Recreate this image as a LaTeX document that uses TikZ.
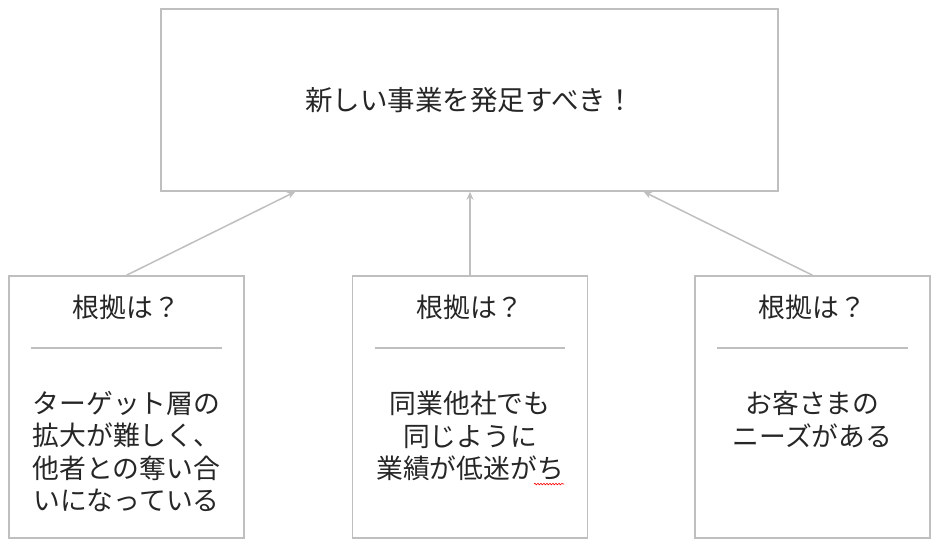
\documentclass[tikz,border=0pt]{standalone}
\usepackage{fontspec}
\newfontfamily\jpfont{Noto Sans CJK JP}
\usetikzlibrary{calc}
\usetikzlibrary{positioning}
\usetikzlibrary{arrows.meta,decorations.pathmorphing}
\tikzset{every picture/.style={/utils/exec={\jpfont}}}
\colorlet{boxgray}{black!25}

\begin{document}
\begin{tikzpicture}[x=1pt,y=-1pt,
  box/.style={draw=boxgray, line width=1.5pt, minimum width=235pt, minimum height=262pt, inner sep=0pt},
  txt/.style={text=black!85, font=\jpfont\fontsize{26.8}{32.3}\selectfont, align=center, inner sep=0pt},
  link/.style={draw=boxgray, line width=1.5pt, -{Stealth[length=8pt,width=7pt]}}]
  \useasboundingbox (0,0) rectangle (938,545);

  \node [box, minimum width=617pt, minimum height=182pt] (claim) at (469.5,100) {};
  \node [txt, font=\jpfont\fontsize{27.5}{32}\selectfont] (claimtext) at (claim.center) {新しい事業を発足すべき！};

  \node [box] (left) at (126.5,407) {};
  \node [box] (mid) at (470,407) {};
  \node [box] (right) at (812.5,407) {};

  \foreach \b in {left, mid, right} {
    \node [txt] (\b head) at ($(\b.north)+(0,32)$) {根拠は？};
    \draw [boxgray, line width=1.5pt] ($(\b.north west)+(23,73)$) -- ($(\b.north east)+(-23,73)$);
  }

  \node [txt, anchor=north] (lefttext) at ($(left.north)+(0,116)$) {ターゲット層の\\拡大が難しく、\\他者との奪い合\\いになっている};
  \node [txt, anchor=north] (midtext) at ($(mid.north)+(0,116)$) {同業他社でも\\同じように\\業績が低迷がち};
  \node [txt, anchor=north] (righttext) at ($(right.north)+(0,116)$) {お客さまの\\ニーズがある};

  % spell check mark
  \draw [red, line width=0.6pt, decorate, decoration={snake, amplitude=0.8pt, segment length=3pt}]
    ($(midtext.south east)+(-30,3)$) -- ($(midtext.south east)+(0,3)$);

  \draw [link] (left.north) -- ($(claim.south west)+(135,0)$);
  \draw [link] (mid.north) -- (mid.north |- claim.south);
  \draw [link] (right.north) -- ($(claim.south east)+(-135,0)$);
\end{tikzpicture}
\end{document}
